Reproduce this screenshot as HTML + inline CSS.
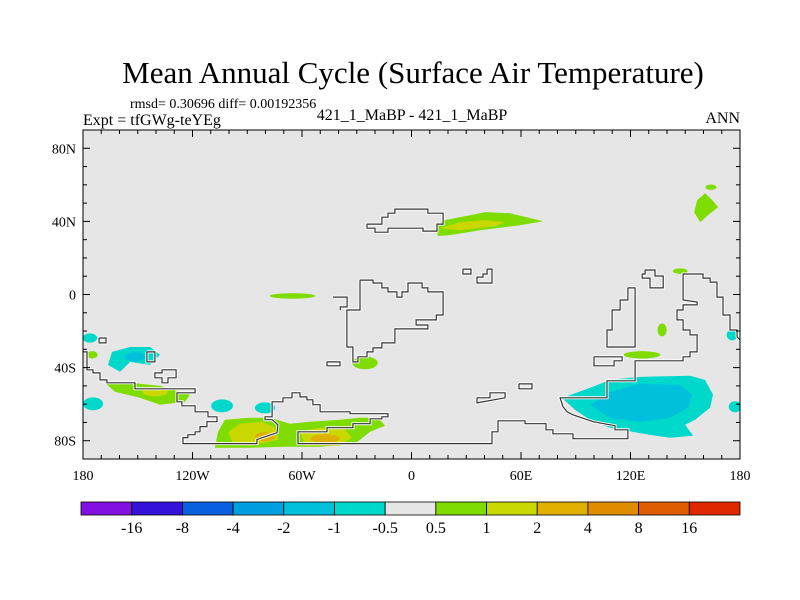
<!DOCTYPE html>
<html><head><meta charset="utf-8"><style>
html,body{margin:0;padding:0;background:#fff}
svg{display:block}
text{font-family:"Liberation Serif",serif;fill:#000}
</style></head><body>
<svg id="c" width="800" height="600" viewBox="0 0 800 600" xmlns="http://www.w3.org/2000/svg">
<text x="413" y="83" font-size="31" text-anchor="middle">Mean Annual Cycle (Surface Air Temperature)</text>
<text x="130" y="108" font-size="14">rmsd= 0.30696 diff= 0.00192356</text>
<text x="83" y="125" font-size="16">Expt = tfGWg-teYEg</text>
<text x="412" y="120" font-size="16" text-anchor="middle">421_1_MaBP - 421_1_MaBP</text>
<text x="740" y="123" font-size="16" text-anchor="end">ANN</text>
<g id="plot"></g>
<g id="cbar"></g>
</svg>
<script>
// ---- data ----
const lonTicks=[-180,-120,-60,0,60,120,180];
const lonTickLabels=["180","120W","60W","0","60E","120E","180"];
const latTicks=[80,40,0,-40,-80];
const latTickLabels=["80N","40N","0","40S","80S"];
const levels=["-16","-8","-4","-2","-1","-0.5","0.5","1","2","4","8","16"];
const levelColors=["#8210e0","#3412d8","#0860e0","#00a0e0","#00c0dc","#00d8cc","#e6e6e6","#7edc00","#c8d800","#e0b000","#e08c00","#e05c00","#e02800"];
// anomaly contour regions: [colorIndex, [[lon,lat],...]]
const regions=[
 [5,[[82.5,-56.6],[97.8,-51.1],[108.8,-46.7],[125.2,-45.1],[152.6,-44.5],[160.8,-46.7],[165.2,-54.9],[163.6,-62],[155.3,-68.6],[149.9,-71.3],[154.3,-77.3],[141.6,-78.4],[130.7,-76.8],[108.8,-72.9],[97.8,-68.6],[89.6,-63.1]]],
 [4,[[97.8,-60.4],[108.8,-53.3],[125.2,-48.9],[147.1,-49.5],[153.7,-54.9],[151.5,-62],[141.6,-67.5],[125.2,-69.7],[108.8,-67.5]]],
 [7,[[12.9,37.9],[18.4,40.7],[32.1,43.4],[40.3,45.1],[54,44.5],[72.1,40.1],[59.5,37.9],[37.6,35.2],[21.1,32.5],[14.5,32]]],
 [8,[[15.6,36.3],[26.6,39.6],[40.3,40.7],[51.3,39.6],[45.8,37.4],[26.6,35.2]]],
 [7,[[156.5,51.6],[160.9,55.4],[164.8,51.6],[168,47.8],[163.7,44.5],[158.2,39.6],[154.9,45]]],
 [5,[[-164.1,-31.4],[-154.2,-28.7],[-143.3,-28.7],[-137.8,-33],[-143.3,-38.5],[-154.2,-36.9],[-159.7,-42.3],[-166.3,-38.5]]],
 [7,[[-168,-48.3],[-154.2,-48.3],[-137.8,-50],[-121.4,-54.9],[-124.1,-58.7],[-137.8,-60.3],[-148.8,-56.5],[-162.5,-53.2]]],
 [7,[[-106,-75.1],[-102.2,-68.5],[-88.5,-67.4],[-77.5,-67.4],[-66.6,-70.7],[-55.6,-69.6],[-39.2,-68.5],[-28.2,-67.4],[-18.3,-67.4],[-14.5,-71.8],[-22.7,-75.1],[-30.9,-81.6],[-50.1,-83.3],[-69.3,-83.3],[-88.5,-83.8],[-107.7,-83.8]]],
 [8,[[-100.5,-75.1],[-94,-70.7],[-82,-69.6],[-74.8,-72.9],[-73.1,-79.4],[-88.5,-82.7],[-98.3,-80.5]]],
 [8,[[-61.1,-75.1],[-50.1,-72.9],[-36.4,-74],[-32.6,-78.4],[-39.2,-82.7],[-58.3,-82.7]]]
];
// elliptical spots: [colorIndex, lon, lat, halfWidthDeg, halfHeightDeg]
const spots=[
 [4,-151.5,-34.1,5.5,2.5],[5,-176.2,-23.8,4,2.5],[5,-174.5,-59.8,5.5,3.5],[5,-103.8,-60.9,6,3.5],[5,-80.3,-62,5.5,3],
 [7,-25.5,-37.4,7,3.5],[8,-140.5,-53.2,7,2.5],[9,-80.3,-77.8,5.5,2.5],[9,-47.4,-78.9,8,2.5],
 [7,-65.2,-0.8,12.5,1.5],[7,164.1,58.7,3,1.5],[7,126.3,-33,10,2],[7,137.3,-19.4,2.5,3.5],[7,147.2,12.8,4,1.5],
 [5,177.3,-61.4,3.5,3],[5,175.7,-22.1,3,3],[7,-175,-33,3,2]
];
// coast outlines
const coasts=[
 [[-180,-31.4],[-177.8,-31.4],[-177.8,-41.2],[-174.5,-41.2],[-174.5,-42.9],[-170.7,-42.9],[-170.7,-46.7],[-166.9,-46.7],[-166.9,-48.3],[-151.5,-48.3],[-151.5,-51.6],[-118.6,-51.6],[-118.6,-53.8],[-128.5,-53.8],[-128.5,-58.7],[-125.8,-58.7],[-125.8,-60.9],[-118.6,-60.9],[-118.6,-64.2],[-111.5,-64.2],[-111.5,-66.9],[-106.6,-66.9],[-106.6,-69.6],[-112.1,-69.6],[-112.1,-72.3],[-115.9,-72.3],[-115.9,-75.1],[-118.6,-75.1],[-118.6,-76.7],[-122.5,-76.7],[-122.5,-78.3],[-125.2,-78.3],[-125.2,-81.6],[-84.7,-81.6],[-84.7,-79.4],[-73.7,-75.6],[-73.2,-71.3],[-76.4,-68.5],[-80.3,-68.5],[-80.3,-66.9],[-76.4,-66.9],[-76.4,-58.7],[-70.4,-58.7],[-70.4,-56.5],[-65.5,-56.5],[-65.5,-53.8],[-61.1,-53.8],[-61.1,-56],[-57.3,-56],[-57.3,-57.6],[-54,-57.6],[-54,-60.3],[-50.1,-60.3],[-50.1,-64.2],[-33.7,-64.2],[-33.7,-65.2],[-12.9,-65.2],[-12.9,-66.9],[-16.2,-66.9],[-16.2,-68],[-22.7,-68],[-22.7,-70.7],[-32.1,-70.7],[-32.1,-72.9],[-46.3,-72.9],[-46.3,-75.1],[-62.2,-75.1],[-62.2,-81.6],[44.1,-81.6],[44.1,-75.1],[47.4,-75.1],[47.4,-69.1],[62.2,-69.1],[62.2,-70.7],[73.7,-70.7],[73.7,-74],[77.5,-74],[77.5,-76.2],[88.5,-76.2],[88.5,-78.9],[118.6,-78.9],[118.6,-74],[111.5,-74],[111.5,-71.8],[99.5,-69.6],[88.5,-65.8],[85.2,-64.2],[83,-61.4],[81.4,-56.5],[107.1,-56.5],[107.1,-47.2],[122.5,-47.2],[122.5,-36.3],[148.8,-36.3],[148.8,-34.1],[152.6,-34.1],[152.6,-31.4],[156.5,-31.4],[156.5,-22.1],[152.6,-22.1],[152.6,-19.4],[148.8,-19.4],[148.8,-13.9],[145.5,-13.9],[145.5,-8.5],[148.8,-8.5],[148.8,-5.7],[156.5,-5.7],[156.5,-4.1],[148.8,-3],[148.8,11.2],[159.7,11.2],[159.7,9],[163.6,9],[163.6,6.8],[167.4,6.8],[167.4,-1.4],[170.7,-1.4],[170.7,-11.2],[174.5,-11.2],[174.5,-19.4],[178.4,-19.4],[178.4,-23.2],[180,-24.8]],
 [[-28.2,7.9],[-21.1,7.9],[-21.1,6.3],[-16.2,6.3],[-16.2,3.6],[-12.9,3.6],[-12.9,1.4],[-8,1.4],[-8,-1.4],[-5.2,-1.4],[-5.2,1.4],[-1.9,1.4],[-1.9,6.3],[5.8,6.3],[5.8,3.6],[9,3.6],[9,1.4],[17.3,1.4],[17.3,-11.2],[13.6,-11.2],[13.6,-13.9],[2.5,-13.9],[2.5,-16.7],[9,-16.7],[9,-18.8],[-9.1,-18.8],[-9.1,-26.5],[-16.2,-26.5],[-16.2,-29.2],[-21.1,-29.2],[-21.1,-31.4],[-24.4,-31.4],[-24.4,-34.1],[-29.3,-34.1],[-29.3,-36.9],[-32.1,-36.9],[-32.1,-28.7],[-35.4,-28.7],[-35.4,-8.5],[-28.2,-8.5],[-28.2,7.9]],
 [[-43,-1.4],[-35.3,-1.4],[-35.3,-6.8],[-39,-6.8],[-39,-8.5]],
 [[-24.4,38.5],[-16.2,38.5],[-16.2,42.3],[-12.9,42.3],[-12.9,44.5],[-9.1,44.5],[-9.1,46.7],[9,46.7],[9,44.5],[17.3,44.5],[17.3,38.5],[14,38.5],[14,34.7],[6.3,34.7],[6.3,36.3],[-12.9,36.3],[-12.9,34.1],[-20,34.1],[-20,36.3],[-24.4,36.3],[-24.4,38.5]],
 [[118.6,3.6],[122.5,3.6],[122.5,-28.7],[107.1,-28.7],[107.1,-19.4],[109.9,-19.4],[109.9,-8.5],[114.3,-8.5],[114.3,-3],[118.6,-3],[118.6,3.6]],
 [[100,-34.1],[115.4,-34.1],[115.4,-36.3],[111,-36.3],[111,-39],[100,-39],[100,-34.1]],
 [[28.2,13.9],[32.6,13.9],[32.6,11.2],[28.2,11.2],[28.2,13.9]],
 [[41.4,13.9],[44.1,13.9],[44.1,6.3],[35.9,6.3],[35.9,9.5],[39.2,9.5],[39.2,11.2],[41.4,11.2],[41.4,13.9]],
 [[128,13.4],[133.4,13.4],[133.4,10.1],[137.9,10.1],[137.9,3.6],[130.7,3.6],[130.7,9],[126.4,9],[126.4,11.2],[128,11.2],[128,13.4]],
 [[-171.2,-23.8],[-167.4,-23.8],[-167.4,-26.5],[-171.2,-26.5],[-171.2,-23.8]],
 [[-145,-31.4],[-140.6,-31.4],[-140.6,-36.9],[-145,-36.9],[-145,-31.4]],
 [[-136.7,-41.2],[-129,-41.2],[-129,-45.6],[-133.4,-45.6],[-133.4,-48.3],[-136.7,-48.3],[-136.7,-45.6],[-140.6,-45.6],[-140.6,-42.9],[-136.7,-42.9],[-136.7,-41.2]],
 [[-46.3,-36.9],[-39.2,-36.9],[-39.2,-39],[-46.3,-39],[-46.3,-36.9]],
 [[58.9,-48.9],[66,-48.9],[66,-51.6],[58.9,-51.6],[58.9,-48.9]],
 [[35.9,-56.5],[43,-56.5],[43,-53.8],[51.3,-53.8],[51.3,-56.5],[35.9,-59.3],[35.9,-56.5]]
];
// ---- axes ----
const X0=83,X1=740,Y0=130,Y1=459;
function xs(lon){return X0+(lon+180)/360*(X1-X0);}
function ys(lat){return Y0+(90-lat)/180*(Y1-Y0);}
const NS="http://www.w3.org/2000/svg";
function mk(tag,attrs,parent){const e=document.createElementNS(NS,tag);for(const k in attrs)e.setAttribute(k,attrs[k]);parent.appendChild(e);return e;}
const plot=document.getElementById('plot');
const bg=mk('rect',{x:X0,y:Y0,width:X1-X0,height:Y1-Y0,fill:'#e6e6e6'},plot);


const clip=mk('clipPath',{id:'pc'},plot);mk('rect',{x:X0,y:Y0,width:X1-X0,height:Y1-Y0},clip);
const g=mk('g',{'clip-path':'url(#pc)'},plot);
regions.forEach((r,i)=>{
 const p=mk('polygon',{points:r[1].map(q=>xs(q[0]).toFixed(1)+','+ys(q[1]).toFixed(1)).join(' '),fill:levelColors[r[0]]},g);
 
 
});
spots.forEach((s,i)=>{
 const e=mk('ellipse',{cx:xs(s[1]),cy:ys(s[2]),rx:s[3]*(X1-X0)/360,ry:s[4]*(Y1-Y0)/180,fill:levelColors[s[0]]},g);
 
 
});
coasts.forEach((c,i)=>{
 const pts=c.map(q=>xs(q[0]).toFixed(1)+','+ys(q[1]).toFixed(1)).join(' ');
 const h=mk('polyline',{points:pts,fill:'none',stroke:'#fff','stroke-width':3},g);
 
 
 const l=mk('polyline',{points:pts,fill:'none',stroke:'#333','stroke-width':1.2},g);
 
 
});
const fr=mk('rect',{x:X0,y:Y0,width:X1-X0,height:Y1-Y0,fill:'none',stroke:'#000','stroke-width':1},plot);


for(let lon=-180;lon<=180;lon+=10){
 const L=(lon%60===0)?7:4,x=xs(lon);
 mk('line',{x1:x,y1:Y1,x2:x,y2:Y1-L,stroke:'#000'},plot);
 mk('line',{x1:x,y1:Y0,x2:x,y2:Y0+L,stroke:'#000'},plot);
}
for(let lat=-90;lat<=90;lat+=10){
 const L=(lat%40===0)?7:4,y=ys(lat);
 mk('line',{x1:X0,y1:y,x2:X0+L,y2:y,stroke:'#000'},plot);
 mk('line',{x1:X1,y1:y,x2:X1-L,y2:y,stroke:'#000'},plot);
}
lonTicks.forEach((v,i)=>{
 const t=mk('text',{x:xs(v),y:480,'font-size':14,'text-anchor':'middle'},plot);t.textContent=lonTickLabels[i];
 
 
});
latTicks.forEach((v,i)=>{
 const t=mk('text',{x:76,y:ys(v)+5,'font-size':14,'text-anchor':'end'},plot);t.textContent=latTickLabels[i];
 
 
});
// colorbar
const cb=document.getElementById('cbar');
const CX0=81,CX1=740,CY=502,CH=13,n=levelColors.length,w=(CX1-CX0)/n;
levelColors.forEach((c,i)=>{
 const r=mk('rect',{x:CX0+i*w,y:CY,width:w,height:CH,fill:c,stroke:'#000','stroke-width':0.8},cb);
 
 
});
levels.forEach((s,i)=>{
 const t=mk('text',{x:CX0+(i+1)*w,y:533,'font-size':16,'text-anchor':'middle'},cb);t.textContent=s;
 
 
});
</script>
</body></html>
